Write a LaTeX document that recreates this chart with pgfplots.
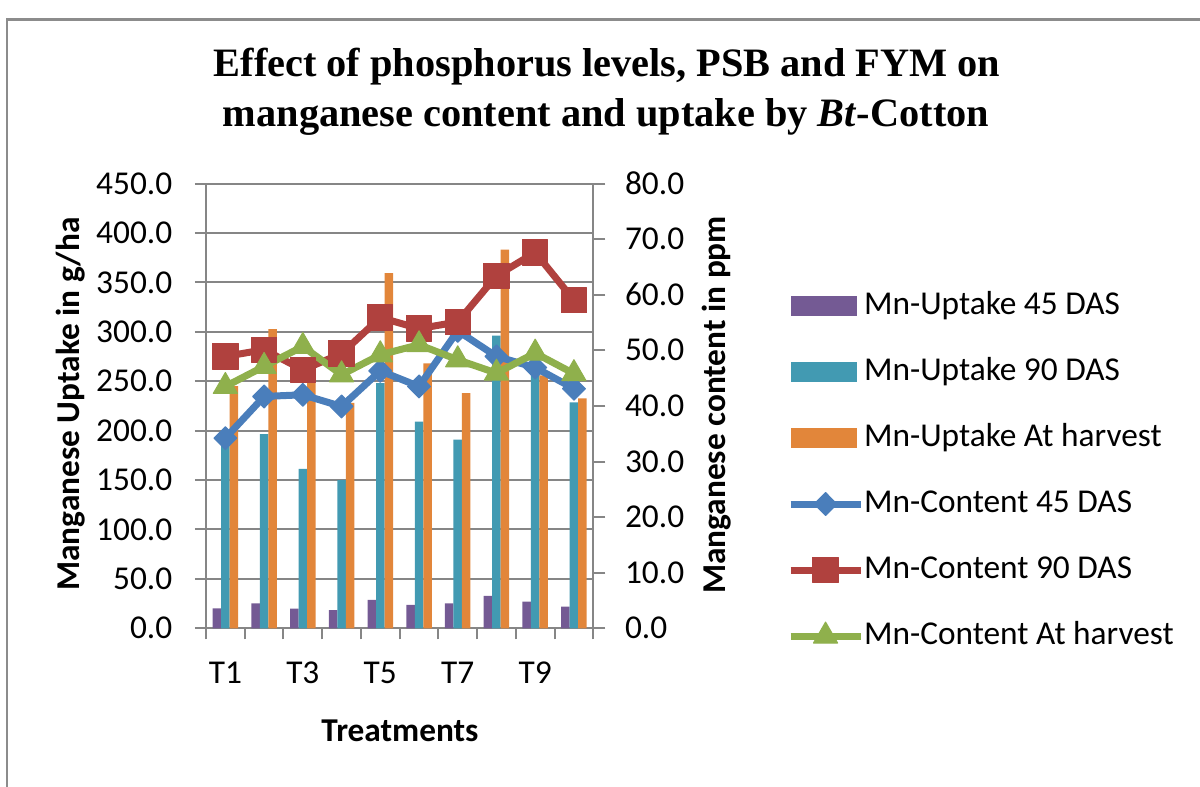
\documentclass[border=0pt]{standalone}
\usepackage{graphicx}
\usepackage{pgfplots}
\pgfplotsset{compat=1.18}
\usepackage{fontspec}
\setmainfont{Carlito}
\newfontfamily\titlefont{Liberation Serif}
\definecolor{cpurple}{RGB}{116,90,148}
\definecolor{cteal}{RGB}{66,154,178}
\definecolor{corange}{RGB}{226,134,58}
\definecolor{cblue}{RGB}{74,126,187}
\definecolor{cred}{RGB}{176,65,62}
\definecolor{cgreen}{RGB}{143,176,76}
\definecolor{axisgray}{RGB}{134,134,134}
\definecolor{framegray}{RGB}{140,140,140}
\pgfplotsset{
  /pgf/number format/assume math mode=true,
  barlegend/.style={legend image code/.code={\fill[##1, draw=none] (0pt,-3pt) rectangle (20pt,3pt);}},
  linelegend/.style={legend image code/.code={\draw[mark repeat=2,mark phase=2,##1] plot coordinates {(0pt,0pt) (10.5pt,0pt) (21pt,0pt)};}},
  common/.style={
    at={(61.8pt,47.61pt)}, anchor=south west, scale only axis,
    width=116.19pt, height=133.44pt,
    xmin=0.5, xmax=10.5,
    axis line style={axisgray, line width=0.6pt},
    tick style={axisgray, line width=0.6pt},
    tick align=outside,
    tick label style={font=\fontsize{10}{12}\selectfont, text=black},
    label style={font=\bfseries\fontsize{10}{12}\selectfont},
    yticklabel style={/pgf/number format/.cd, fixed, fixed zerofill, precision=1, /tikz/.cd},
  }
}
\begin{document}
\begin{tikzpicture}
\useasboundingbox (0,0) rectangle (360pt,236.1pt);
\draw[framegray, line width=0.9pt] (2.1pt,-2pt) -- (2.1pt,230.1pt) -- (362pt,230.1pt);
\node[anchor=base, font=\titlefont\bfseries\fontsize{12.1}{14}\selectfont, inner sep=0pt] at (182.1pt,213.1pt) {Effect of phosphorus levels, PSB and FYM on};
\node[anchor=base, font=\titlefont\bfseries\fontsize{12.1}{14}\selectfont, inner sep=0pt] at (181.8pt,198.1pt) {manganese content and uptake by \textit{Bt}-Cotton};

\begin{axis}[common,
  ymin=0, ymax=450,
  axis x line*=bottom, axis y line*=left,
  ymajorgrids, grid style={axisgray, line width=0.6pt},
  ytick={0,50,...,450},
  major tick length=3.3pt,
  xtick={0.5,1.5,...,10.5}, xticklabels={},
  extra x ticks={1,3,5,7,9}, extra x tick labels={T1,T3,T5,T7,T9},
  extra x tick style={major tick length=0pt, xticklabel style={yshift=-6.6pt}},
  yticklabel style={xshift=-3.3pt},
  xlabel={Treatments},
  xlabel style={at={(axis description cs:0.5009,-0.2556)}, anchor=base},
  ylabel={Manganese Uptake in g/ha},
  ylabel style={at={(axis description cs:-0.3486,0.504)}, anchor=center, rotate=0},
  ybar=0pt, bar width=2.55pt,
]
\addplot[fill=cpurple, draw=none] coordinates {(1,20.2) (2,25.3) (3,20.0) (4,18.5) (5,28.7) (6,23.6) (7,25.3) (8,32.7) (9,27.0) (10,21.9)};
\addplot[fill=cteal, draw=none] coordinates {(1,185) (2,196.4) (3,161.3) (4,150) (5,248) (6,209) (7,191) (8,296) (9,262) (10,228.5)};
\addplot[fill=corange, draw=none] coordinates {(1,245) (2,302.7) (3,262) (4,228) (5,359.4) (6,268) (7,238) (8,383) (9,256) (10,232.5)};
\end{axis}

\begin{axis}[common,
  ymin=0, ymax=80,
  axis x line=none, axis y line*=right,
  ytick={0,10,...,80},
  major tick length=3.6pt,
  yticklabel style={xshift=2.4pt},
  ylabel={Manganese content in ppm},
  ylabel style={at={(axis description cs:1.3194,0.502)}, anchor=center, rotate=0},
  legend cell align=left,
  legend style={draw=none, fill=none, at={(axis description cs:1.5003,0.7583)}, anchor=north west,
    inner sep=0pt, outer sep=0pt, row sep=10.8pt,
    font=\fontsize{10}{12}\selectfont,
    nodes={inner sep=0pt, text height=7pt, text depth=2pt},
    /tikz/every odd column/.append style={column sep=0pt}},
]
\addlegendimage{barlegend, fill=cpurple}
\addlegendentry{Mn-Uptake 45 DAS}
\addlegendimage{barlegend, fill=cteal}
\addlegendentry{Mn-Uptake 90 DAS}
\addlegendimage{barlegend, fill=corange}
\addlegendentry{Mn-Uptake At harvest}
\addplot[linelegend, cblue, line width=2.1pt, line join=round, mark=diamond*, mark size=3.45pt, mark options={solid, xscale=1.33, line width=0.3pt}] coordinates {(1,34.2) (2,41.7) (3,42.0) (4,39.9) (5,46.3) (6,43.5) (7,53.5) (8,48.9) (9,46.9) (10,43.1)};
\addlegendentry{Mn-Content 45 DAS}
\addplot[linelegend, cred, line width=2.1pt, line join=round, mark=square*, mark size=3.8pt, mark options={solid, line width=0.3pt}] coordinates {(1,48.9) (2,50.1) (3,46.5) (4,49.4) (5,55.9) (6,53.9) (7,55.1) (8,63.4) (9,67.6) (10,59.0)};
\addlegendentry{Mn-Content 90 DAS}
\addplot[linelegend, cgreen, line width=2.1pt, line join=round, mark=triangle*, mark size=4.2pt, mark options={solid, line width=0.3pt}] coordinates {(1,43.5) (2,47.1) (3,50.7) (4,45.6) (5,49.2) (6,51.0) (7,48.3) (8,45.9) (9,49.5) (10,45.8)};
\addlegendentry{Mn-Content At harvest}
\end{axis}
\end{tikzpicture}
\end{document}
